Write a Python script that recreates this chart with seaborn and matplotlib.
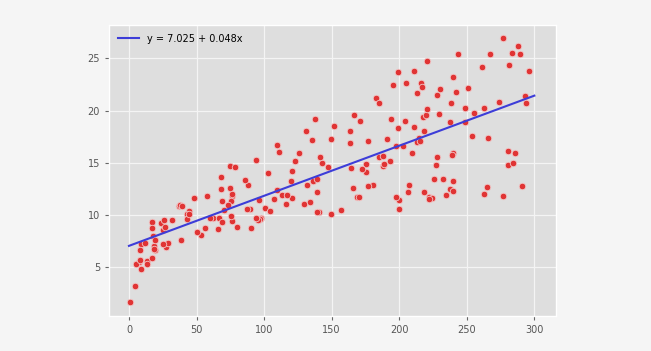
import matplotlib
matplotlib.use("Agg")
import matplotlib.pyplot as plt
import seaborn as sns
import numpy as np
import pandas as pd

tv = [230.1, 44.5, 17.2, 151.5, 180.8, 8.7, 57.5, 120.2, 8.6, 199.8, 66.1, 214.7, 23.8, 97.5, 204.1, 195.4, 67.8, 281.4, 69.2, 147.3,
      218.4, 237.4, 13.2, 228.3, 62.3, 262.9, 142.9, 240.1, 248.8, 70.6, 292.9, 112.9, 97.2, 265.6, 95.7, 290.7, 266.9, 74.7, 43.1, 228,
      202.5, 177, 293.6, 206.9, 25.1, 175.1, 89.7, 239.9, 227.2, 66.9, 199.8, 100.4, 216.4, 182.6, 262.7, 198.9, 7.3, 136.2, 210.8, 210.7,
      53.5, 261.3, 239.3, 102.7, 131.1, 69, 31.5, 139.3, 237.4, 216.8, 199.1, 109.8, 26.8, 129.4, 213.4, 16.9, 27.5, 120.5, 5.4, 116,
      76.4, 239.8, 75.3, 68.4, 213.5, 193.2, 76.3, 110.7, 88.3, 109.8, 134.3, 28.6, 217.7, 250.9, 107.4, 163.3, 197.6, 184.9, 289.7, 135.2,
      222.4, 296.4, 280.2, 187.9, 238.2, 137.9, 25, 90.4, 13.1, 255.4, 225.8, 241.7, 175.7, 209.6, 78.2, 75.1, 139.2, 76.4, 125.7, 19.4,
      141.3, 18.8, 224, 123.1, 229.5, 87.2, 7.8, 80.2, 220.3, 59.6, 0.7, 265.2, 8.4, 219.8, 36.9, 48.3, 25.6, 273.7, 43, 184.9,
      73.4, 193.7, 220.5, 104.6, 96.2, 140.3, 240.1, 243.2, 38, 44.7, 280.7, 121, 197.6, 171.3, 187.8, 4.1, 93.9, 149.8, 11.7, 131.7,
      172.5, 85.7, 188.4, 163.5, 117.2, 234.5, 17.9, 206.8, 215.4, 284.3, 50, 164.5, 19.6, 168.4, 222.4, 276.9, 248.4, 170.2, 276.7, 165.6,
      156.6, 218.5, 56.2, 287.6, 253.8, 205, 139.5, 191.1, 286, 18.7, 39.5, 75.5, 17.2, 166.8, 149.7, 38.2, 94.2, 177, 283.6, 232.1]

sales = [22.1, 10.4, 9.3, 18.5, 12.9, 7.2, 11.8, 13.2, 4.8, 10.6, 8.6, 17.4, 9.2, 9.7, 19, 22.4, 12.5, 24.4, 11.3, 14.6,
         18, 12.5, 5.6, 15.5, 9.7, 12, 15, 15.9, 18.9, 10.5, 21.4, 11.9, 9.6, 17.4, 9.5, 12.8, 25.4, 14.7, 10.1, 21.5,
         16.6, 17.1, 20.7, 12.9, 8.5, 14.9, 10.6, 23.2, 14.8, 9.7, 11.4, 10.7, 22.6, 21.2, 20.2, 23.7, 5.5, 13.2, 23.8, 18.4,
         8.1, 24.2, 15.7, 14, 18, 9.3, 9.5, 13.4, 18.9, 22.3, 18.3, 12.4, 8.8, 11, 17, 8.7, 6.9, 14.2, 5.3, 11,
         11.8, 12.3, 11.3, 13.6, 21.7, 15.2, 12, 16, 12.9, 16.7, 11.2, 7.3, 19.4, 22.2, 11.5, 16.9, 11.7, 15.5, 25.4, 17.2,
         11.7, 23.8, 14.8, 14.7, 20.7, 19.2, 7.2, 8.7, 5.3, 19.8, 13.4, 21.8, 14.1, 15.9, 14.6, 12.6, 12.2, 9.4, 15.9, 6.6,
         15.5, 7, 11.6, 15.2, 19.7, 10.6, 6.6, 8.8, 24.7, 9.7, 1.6, 12.7, 5.7, 19.6, 10.8, 11.6, 9.5, 20.8, 9.6, 20.7,
         10.9, 19.2, 20.1, 10.4, 11.4, 10.3, 13.2, 25.4, 10.9, 10.1, 16.1, 11.6, 16.6, 19, 15.6, 3.2, 15.3, 10.1, 7.3, 12.9,
         14.4, 13.3, 14.9, 18, 11.9, 11.9, 8, 12.2, 17.1, 15, 8.4, 14.5, 7.6, 11.7, 11.5, 27, 20.2, 11.7, 11.8, 12.6,
         10.5, 12.2, 8.7, 26.2, 17.6, 22.6, 10.3, 17.3, 15.9, 6.7, 10.8, 9.9, 5.9, 19.6, 17.3, 7.6, 9.7, 12.8, 25.5, 13.4]

fit_x = [0, 300]
intercept = 7.025
slope = 0.048
fit_label = "y = 7.025 + 0.048x"
x_ticks = [0, 50, 100, 150, 200, 250, 300]
y_ticks = [5, 10, 15, 20, 25]

df = pd.DataFrame({"TV": tv, "Sales": sales})
fit_df = pd.DataFrame({"x": fit_x, "y": [intercept + slope * v for v in fit_x]})

plt.style.use("ggplot")
fig = plt.figure(figsize=(6.51, 3.51), dpi=100, facecolor="#f5f5f5")
ax = fig.add_axes([0.1674, 0.0997, 0.6866, 0.8291])
ax.set_facecolor("#dedede")

sns.scatterplot(data=df, x="TV", y="Sales", ax=ax, color="#e03434", s=22,
                edgecolor="#f0c8c8", linewidth=0.6, zorder=3, legend=False)
sns.lineplot(data=fit_df, x="x", y="y", ax=ax, color="#3d3dd8", linewidth=1.5,
             label=fit_label, zorder=4)

ax.set_xticks(x_ticks)
ax.set_yticks(y_ticks)
ax.set_xlabel("")
ax.set_ylabel("")
ax.grid(True, color="#f4f4f4", linewidth=0.9)
ax.tick_params(axis="both", labelsize=7, colors="#666666", length=3)
for lab in ax.get_xticklabels() + ax.get_yticklabels():
    lab.set_color("#555555")
leg = ax.legend(loc="upper left", frameon=False, fontsize=7, handlelength=2.2)
ax.set_xlim(-14.8, 316)
ax.set_ylim(0.3, 28.2)

fig.savefig("out.png", dpi=100, facecolor=fig.get_facecolor())
